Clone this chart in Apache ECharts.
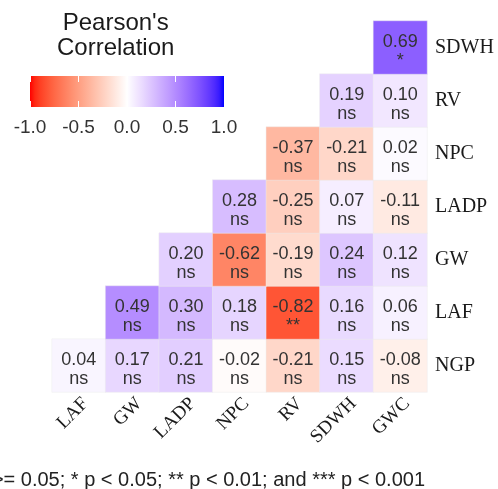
<!DOCTYPE html>
<html>
<head>
<meta charset="utf-8">
<script src="https://cdn.jsdelivr.net/npm/echarts@6/dist/echarts.min.js"></script>
<style>html,body{margin:0;padding:0;background:#fff}#c{width:498px;height:489px}</style>
</head>
<body>
<div id="c"></div>
<script>
// ---- data ----
const xCats = ['LAF', 'GW', 'LADP', 'NPC', 'RV', 'SDWH', 'GWC'];
const yCats = ['NGP', 'LAF', 'GW', 'LADP', 'NPC', 'RV', 'SDWH'];
// correlation values per row (columns follow xCats; null = empty)
const rowNGP  = [0.04, 0.17, 0.21, -0.02, -0.21, 0.15, -0.08];
const rowLAF  = [null, 0.49, 0.30, 0.18, -0.82, 0.16, 0.06];
const rowGW   = [null, null, 0.20, -0.62, -0.19, 0.24, 0.12];
const rowLADP = [null, null, null, 0.28, -0.25, 0.07, -0.11];
const rowNPC  = [null, null, null, null, -0.37, -0.21, 0.02];
const rowRV   = [null, null, null, null, null, 0.19, 0.10];
const rowSDWH = [null, null, null, null, null, null, 0.69];
// significance per row
const sigNGP  = ['ns', 'ns', 'ns', 'ns', 'ns', 'ns', 'ns'];
const sigLAF  = [null, 'ns', 'ns', 'ns', '**', 'ns', 'ns'];
const sigGW   = [null, null, 'ns', 'ns', 'ns', 'ns', 'ns'];
const sigLADP = [null, null, null, 'ns', 'ns', 'ns', 'ns'];
const sigNPC  = [null, null, null, null, 'ns', 'ns', 'ns'];
const sigRV   = [null, null, null, null, null, 'ns', 'ns'];
const sigSDWH = [null, null, null, null, null, null, '*'];
const legendTicks = [-1.0, -0.5, 0.0, 0.5, 1.0];
const legendTitle = "Pearson's\nCorrelation";
const footnote = "ns p >= 0.05; * p < 0.05; ** p < 0.01; and *** p < 0.001";

const rows = [rowNGP, rowLAF, rowGW, rowLADP, rowNPC, rowRV, rowSDWH];
const sigs = [sigNGP, sigLAF, sigGW, sigLADP, sigNPC, sigRV, sigSDWH];
const cells = [];
rows.forEach((r, yi) => r.forEach((v, xi) => {
  if (v !== null) cells.push([xi, yi, v, sigs[yi][xi]]);
}));

// ---- Lab colour interpolation (like ggplot gradient2) ----
function toLin(c){c/=255;return c<=0.04045?c/12.92:Math.pow((c+0.055)/1.055,2.4);}
function toS(c){c=c<=0.0031308?12.92*c:1.055*Math.pow(c,1/2.4)-0.055;return Math.max(0,Math.min(255,Math.round(c*255)));}
function f(t){return t>0.008856?Math.cbrt(t):7.787*t+16/116;}
function fi(t){return t>0.206893?t*t*t:(t-16/116)/7.787;}
function rgb2lab(r,g,b){
  const R=toLin(r),G=toLin(g),B=toLin(b);
  const X=(0.4124*R+0.3576*G+0.1805*B)/0.95047,Y=0.2126*R+0.7152*G+0.0722*B,Z=(0.0193*R+0.1192*G+0.9505*B)/1.08883;
  const fx=f(X),fy=f(Y),fz=f(Z);
  return [116*fy-16,500*(fx-fy),200*(fy-fz)];
}
function lab2rgb(L,a,b){
  const fy=(L+16)/116,fx=fy+a/500,fz=fy-b/200;
  const X=fi(fx)*0.95047,Y=fi(fy),Z=fi(fz)*1.08883;
  const R=3.2406*X-1.5372*Y-0.4986*Z,G=-0.9689*X+1.8758*Y+0.0415*Z,B=0.0557*X-0.2040*Y+1.0570*Z;
  return 'rgb('+toS(R)+','+toS(G)+','+toS(B)+')';
}
const labW=rgb2lab(255,255,255),labR=rgb2lab(255,0,0),labB=rgb2lab(0,0,255);
function colAt(v){
  const t=Math.abs(v),e=v<0?labR:labB;
  return lab2rgb(labW[0]+(e[0]-labW[0])*t,labW[1]+(e[1]-labW[1])*t,labW[2]+(e[2]-labW[2])*t);
}
const N=40,stops=[],gradStops=[];
for(let i=0;i<=N;i++){const v=-1+2*i/N;stops.push(colAt(v));gradStops.push({offset:i/N,color:colAt(v)});}

const chart = echarts.init(document.getElementById('c'), null, {renderer:'canvas'});
const serif = '"Liberation Serif","Times New Roman",serif';
const sans = '"Liberation Sans",Arial,sans-serif';
chart.setOption({
  animation: false,
  backgroundColor: '#fff',
  grid: [
    {left: 52, right: 71, top: 21, bottom: 97},
    {left: 30, width: 194, top: 76, height: 31}
  ],
  xAxis: [
    {type: 'category', data: xCats, gridIndex: 0, position: 'bottom',
     axisLine: {show: false}, axisTick: {show: false}, splitLine: {show: false},
     axisLabel: {rotate: 45, margin: 2, verticalAlign: 'top', fontFamily: serif, fontSize: 19, color: '#1a1a1a'}},
    {type: 'value', gridIndex: 1, min: -1, max: 1, interval: 0.5, position: 'bottom', z: 10,
     axisLine: {show: false}, splitLine: {show: false},
     axisTick: {show: true, inside: true, length: 6, lineStyle: {color: '#fff', width: 1}},
     axisLabel: {margin: 11, fontFamily: sans, fontSize: 19, color: '#333',
       customValues: legendTicks, formatter: v => v.toFixed(1)}},
    {type: 'value', gridIndex: 1, min: -1, max: 1, interval: 0.5, position: 'top', z: 10,
     axisLine: {show: false}, splitLine: {show: false}, axisLabel: {show: false},
     axisTick: {show: true, inside: true, length: 6, lineStyle: {color: '#fff', width: 1}}}
  ],
  yAxis: [
    {type: 'category', data: yCats, gridIndex: 0, position: 'right',
     axisLine: {show: false}, axisTick: {show: false}, splitLine: {show: false},
     axisLabel: {margin: 8, fontFamily: serif, fontSize: 20, color: '#1a1a1a'}},
    {type: 'value', gridIndex: 1, min: 0, max: 1, show: false}
  ],
  visualMap: {
    type: 'continuous', show: false, min: -1, max: 1, dimension: 2, seriesIndex: 0,
    inRange: {color: stops}
  },
  graphic: [
    {type: 'text', left: 127 - 70, top: 11, style: {text: legendTitle, x: 70, textAlign: 'center',
      font: '24px ' + sans, fill: '#1a1a1a', lineHeight: 25}},
    {type: 'text', right: 73, top: 470, style: {text: footnote, textAlign: 'right',
      font: '20px ' + sans, fill: '#222'}}
  ],
  series: [
    {type: 'heatmap', xAxisIndex: 0, yAxisIndex: 0, data: cells,
     itemStyle: {borderColor: 'rgba(235,235,235,0.8)', borderWidth: 0.6},
     emphasis: {disabled: true},
     label: {show: true, fontFamily: sans, fontSize: 18, color: '#333', lineHeight: 19, offset: [0, 4],
       formatter: p => p.value[2].toFixed(2) + '\n' + p.value[3]}},
    {type: 'custom', xAxisIndex: 1, yAxisIndex: 1, data: [[-1, 0, 1, 1]], silent: true,
     renderItem: (params, api) => {
       const p0 = api.coord([api.value(0), api.value(1)]);
       const p1 = api.coord([api.value(2), api.value(3)]);
       return {type: 'rect', shape: {x: p0[0], y: p1[1], width: p1[0] - p0[0], height: p0[1] - p1[1]},
         style: {fill: new echarts.graphic.LinearGradient(0, 0, 1, 0, gradStops)}};
     }}
  ]
});
</script>
</body>
</html>
